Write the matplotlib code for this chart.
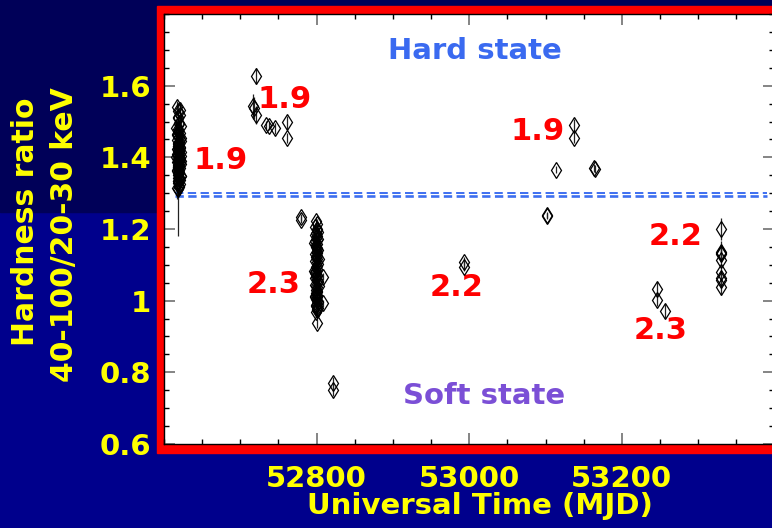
import matplotlib
matplotlib.use("Agg")
import matplotlib.pyplot as plt
from matplotlib.patches import Rectangle
from matplotlib.ticker import MultipleLocator, FixedLocator, FuncFormatter

plt.rcParams["font.family"] = ["DejaVu Sans"]
plt.rcParams["font.weight"] = "bold"
plt.rcParams["lines.scale_dashes"] = False

# ---------------------------------------------------------------- data
# First hard-state episode (dense monitoring)
spring_mjd = [52617, 52619, 52621, 52618, 52620, 52622, 52616, 52619, 52621, 52618,
              52620, 52617, 52622, 52619, 52620, 52618, 52621, 52617, 52619, 52622,
              52620, 52618, 52616, 52621, 52619, 52620, 52617, 52622, 52618, 52619,
              52621, 52620, 52617, 52619, 52618, 52622, 52620, 52621, 52619, 52618,
              52620, 52617, 52621, 52619, 52620, 52618, 52622, 52619, 52620, 52618,
              52621, 52618, 52620, 52619, 52617, 52622, 52620, 52618, 52621, 52619,
              52620, 52617, 52622, 52619, 52618, 52621, 52620, 52619, 52617, 52620,
              52622, 52618, 52619, 52621, 52620, 52617, 52619, 52621, 52618, 52620]
spring_ratio = [1.541, 1.528, 1.517, 1.509, 1.497, 1.488, 1.482, 1.474, 1.469, 1.461,
                1.457, 1.449, 1.446, 1.441, 1.436, 1.431, 1.427, 1.423, 1.419, 1.414,
                1.411, 1.406, 1.402, 1.398, 1.395, 1.391, 1.386, 1.382, 1.379, 1.374,
                1.369, 1.366, 1.361, 1.357, 1.352, 1.347, 1.343, 1.338, 1.333, 1.327,
                1.321, 1.314, 1.452, 1.433, 1.416, 1.404, 1.389, 1.376, 1.358, 1.311,
                1.533, 1.512, 1.493, 1.478, 1.466, 1.453, 1.444, 1.438, 1.428, 1.421,
                1.417, 1.409, 1.403, 1.396, 1.388, 1.384, 1.377, 1.371, 1.364, 1.356,
                1.349, 1.341, 1.335, 1.326, 1.318, 1.462, 1.425, 1.393, 1.372, 1.345]
spring_err = [0.015, 0.02, 0.02, 0.025, 0.02, 0.03, 0.02, 0.025, 0.02, 0.03,
              0.02, 0.025, 0.02, 0.03, 0.02, 0.025, 0.02, 0.03, 0.02, 0.025,
              0.02, 0.03, 0.02, 0.025, 0.02, 0.03, 0.02, 0.025, 0.02, 0.03,
              0.02, 0.025, 0.02, 0.03, 0.02, 0.025, 0.02, 0.03, 0.02, 0.025,
              0.02, 0.03, 0.02, 0.025, 0.02, 0.03, 0.02, 0.025, 0.02, 0.13,
              0.02, 0.025, 0.02, 0.03, 0.02, 0.025, 0.02, 0.03, 0.02, 0.025,
              0.02, 0.025, 0.02, 0.03, 0.02, 0.025, 0.02, 0.03, 0.02, 0.025,
              0.02, 0.025, 0.02, 0.03, 0.02, 0.025, 0.02, 0.03, 0.02, 0.025]

# Soft-state episode (dense monitoring)
dip_mjd = [52799, 52800, 52798, 52801, 52799, 52800, 52802, 52798, 52800, 52799,
           52801, 52800, 52798, 52799, 52801, 52800, 52802, 52799, 52800, 52798,
           52801, 52799, 52800, 52802, 52798, 52800, 52799, 52801, 52800, 52798,
           52799, 52801, 52800, 52799, 52802, 52800, 52799, 52797, 52803, 52797,
           52803, 52801, 52800, 52809, 52809,
           52800, 52798, 52801, 52799, 52802, 52800, 52798, 52801, 52799, 52800,
           52802, 52799, 52801, 52798, 52800, 52799, 52801, 52802, 52800, 52798,
           52799, 52801, 52800, 52798, 52802]
dip_ratio = [1.222, 1.214, 1.205, 1.196, 1.188, 1.181, 1.173, 1.166, 1.158, 1.151,
             1.144, 1.137, 1.129, 1.122, 1.116, 1.108, 1.101, 1.094, 1.087, 1.079,
             1.072, 1.066, 1.058, 1.051, 1.044, 1.037, 1.031, 1.024, 1.017, 1.011,
             1.004, 0.998, 0.991, 0.986, 0.979, 0.973, 0.967, 1.160, 1.115, 1.083,
             1.042, 1.009, 0.937, 1.067, 0.993,
             1.201, 1.184, 1.169, 1.155, 1.141, 1.126, 1.112, 1.097, 1.083, 1.069,
             1.055, 1.040, 1.027, 1.014, 1.001, 0.988, 0.976, 1.191, 1.133, 1.076,
             1.021, 0.983, 1.148, 1.062, 0.995]
dip_err = [0.012, 0.015, 0.012, 0.015, 0.012, 0.015, 0.012, 0.015, 0.012, 0.015,
           0.012, 0.015, 0.012, 0.015, 0.012, 0.015, 0.012, 0.015, 0.012, 0.015,
           0.012, 0.015, 0.012, 0.015, 0.012, 0.015, 0.012, 0.015, 0.012, 0.015,
           0.012, 0.015, 0.012, 0.015, 0.012, 0.015, 0.012, 0.015, 0.012, 0.015,
           0.012, 0.015, 0.012, 0.01, 0.01,
           0.015, 0.012, 0.015, 0.012, 0.015, 0.012, 0.015, 0.012, 0.015, 0.012,
           0.015, 0.012, 0.015, 0.012, 0.015, 0.012, 0.015, 0.012, 0.015, 0.012,
           0.015, 0.012, 0.015, 0.012, 0.015]

# Sparse pointings
sparse_mjd = [52721, 52716, 52718, 52721, 52734, 52737, 52746, 52761, 52761,
              52780, 52780, 52821, 52821,
              52993, 52993, 53102, 53102, 53114, 53137, 53137, 53164, 53165,
              53246, 53246, 53257,
              53330, 53330, 53330, 53330, 53330, 53330, 53330, 53330, 53330]
sparse_ratio = [1.627, 1.543, 1.538, 1.518, 1.489, 1.487, 1.481, 1.498, 1.454,
                1.233, 1.226, 0.769, 0.751,
                1.109, 1.095, 1.240, 1.237, 1.365, 1.490, 1.455, 1.370, 1.367,
                1.033, 1.002, 0.972,
                1.200, 1.137, 1.133, 1.130, 1.114, 1.081, 1.062, 1.058, 1.039]
sparse_err = [0.022, 0.035, 0.03, 0.025, 0.012, 0.012, 0.015, 0.018, 0.015,
              0.01, 0.01, 0.018, 0.018,
              0.012, 0.012, 0.008, 0.008, 0.01, 0.018, 0.015, 0.012, 0.012,
              0.02, 0.018, 0.02,
              0.03, 0.03, 0.02, 0.02, 0.02, 0.02, 0.02, 0.02, 0.023]

state_boundary = 1.30
photon_index = ["1.9", "1.9", "2.3", "2.2", "1.9", "2.2", "2.3"]
ratio_ticks = [0.6, 0.8, 1.0, 1.2, 1.4, 1.6]
mjd_ticks = [52800, 53000, 53200]

# ---------------------------------------------------------------- figure
W, H = 772, 528
fig = plt.figure(figsize=(W / 100, H / 100), dpi=100, facecolor="#00008c")

def px(x, y):
    """pixel position (origin top-left) -> figure fraction"""
    return x / W, 1 - y / H

fig.patches.append(Rectangle((0, 1 - 212 / H), 1, 212 / H, transform=fig.transFigure,
                             color="#000058", zorder=-3))
fig.patches.append(Rectangle(px(157, 453), (800 - 157) / W, (453 - 6) / H,
                             transform=fig.transFigure, color="#ff0000", zorder=-2))

ax = fig.add_axes([164 / W, (H - 444) / H, 610.4 / W, 430 / H])
ax.set_facecolor("white")
ax.set_xlim(52600, 53400)
ax.set_ylim(0.6, 1.8)

for s in ax.spines.values():
    s.set_color("black")
    s.set_linewidth(1.0)

ax.xaxis.set_major_locator(FixedLocator(mjd_ticks))
ax.xaxis.set_minor_locator(MultipleLocator(50))
ax.yaxis.set_major_locator(FixedLocator(ratio_ticks))
ax.yaxis.set_minor_locator(MultipleLocator(0.05))
ax.yaxis.set_major_formatter(FuncFormatter(lambda v, p: f"{v:g}"))
ax.tick_params(which="both", direction="in", top=True, right=True)
ax.tick_params(which="major", length=8, width=1.2, color="#707070",
               labelcolor="#ffff00", labelsize=21)
ax.tick_params(which="minor", length=3.5, width=1.0, color="black")
ax.tick_params(axis="y", which="major", pad=9)
ax.tick_params(axis="x", which="major", pad=15)

err_kw = dict(fmt="d", ms=8.5, mfc="none", mec="black", mew=0.9,
              ecolor="#222222", elinewidth=0.9, capsize=0, zorder=3)
ax.errorbar(spring_mjd, spring_ratio, yerr=spring_err, **err_kw)
ax.errorbar(dip_mjd, dip_ratio, yerr=dip_err, **err_kw)
ax.errorbar(sparse_mjd, sparse_ratio, yerr=sparse_err, **err_kw)

# hard / soft boundary drawn as a doubled dashed line
blue = "#3d6ff0"
l1, = ax.plot([52615, 53390], [state_boundary, state_boundary], color=blue, lw=1.4, zorder=2)
l2, = ax.plot([52615, 53390], [state_boundary - 0.0075, state_boundary - 0.0075],
              color=blue, lw=1.9, zorder=2)
for ln in (l1, l2):
    ln.set_dashes([6.0, 3.2])

ax.text(53007, 1.697, "Hard state", color="#3a6af0", fontsize=21, ha="center", va="center")
ax.text(53019, 0.733, "Soft state", color="#7b4fd6", fontsize=21, ha="center", va="center")

label_pos = [(52674, 1.39), (52758, 1.56), (52743, 1.046), (52984, 1.038),
             (53090, 1.472), (53271, 1.178), (53251, 0.916)]
for txt, (xm, ym) in zip(photon_index, label_pos):
    ax.text(xm, ym, txt, color="#ff0000", fontsize=22, ha="center", va="center")

yellow = "#ffff00"
fig.text(*px(480, 506), "Universal Time (MJD)", color=yellow, fontsize=21,
         ha="center", va="center")
fig.text(*px(26, 222), "Hardness ratio", color=yellow, fontsize=21.5,
         rotation=90, ha="center", va="center")
fig.text(*px(65, 235), "40-100/20-30 keV", color=yellow, fontsize=21.5,
         rotation=90, ha="center", va="center")

fig.savefig("out.png", dpi=100, facecolor=fig.get_facecolor())
